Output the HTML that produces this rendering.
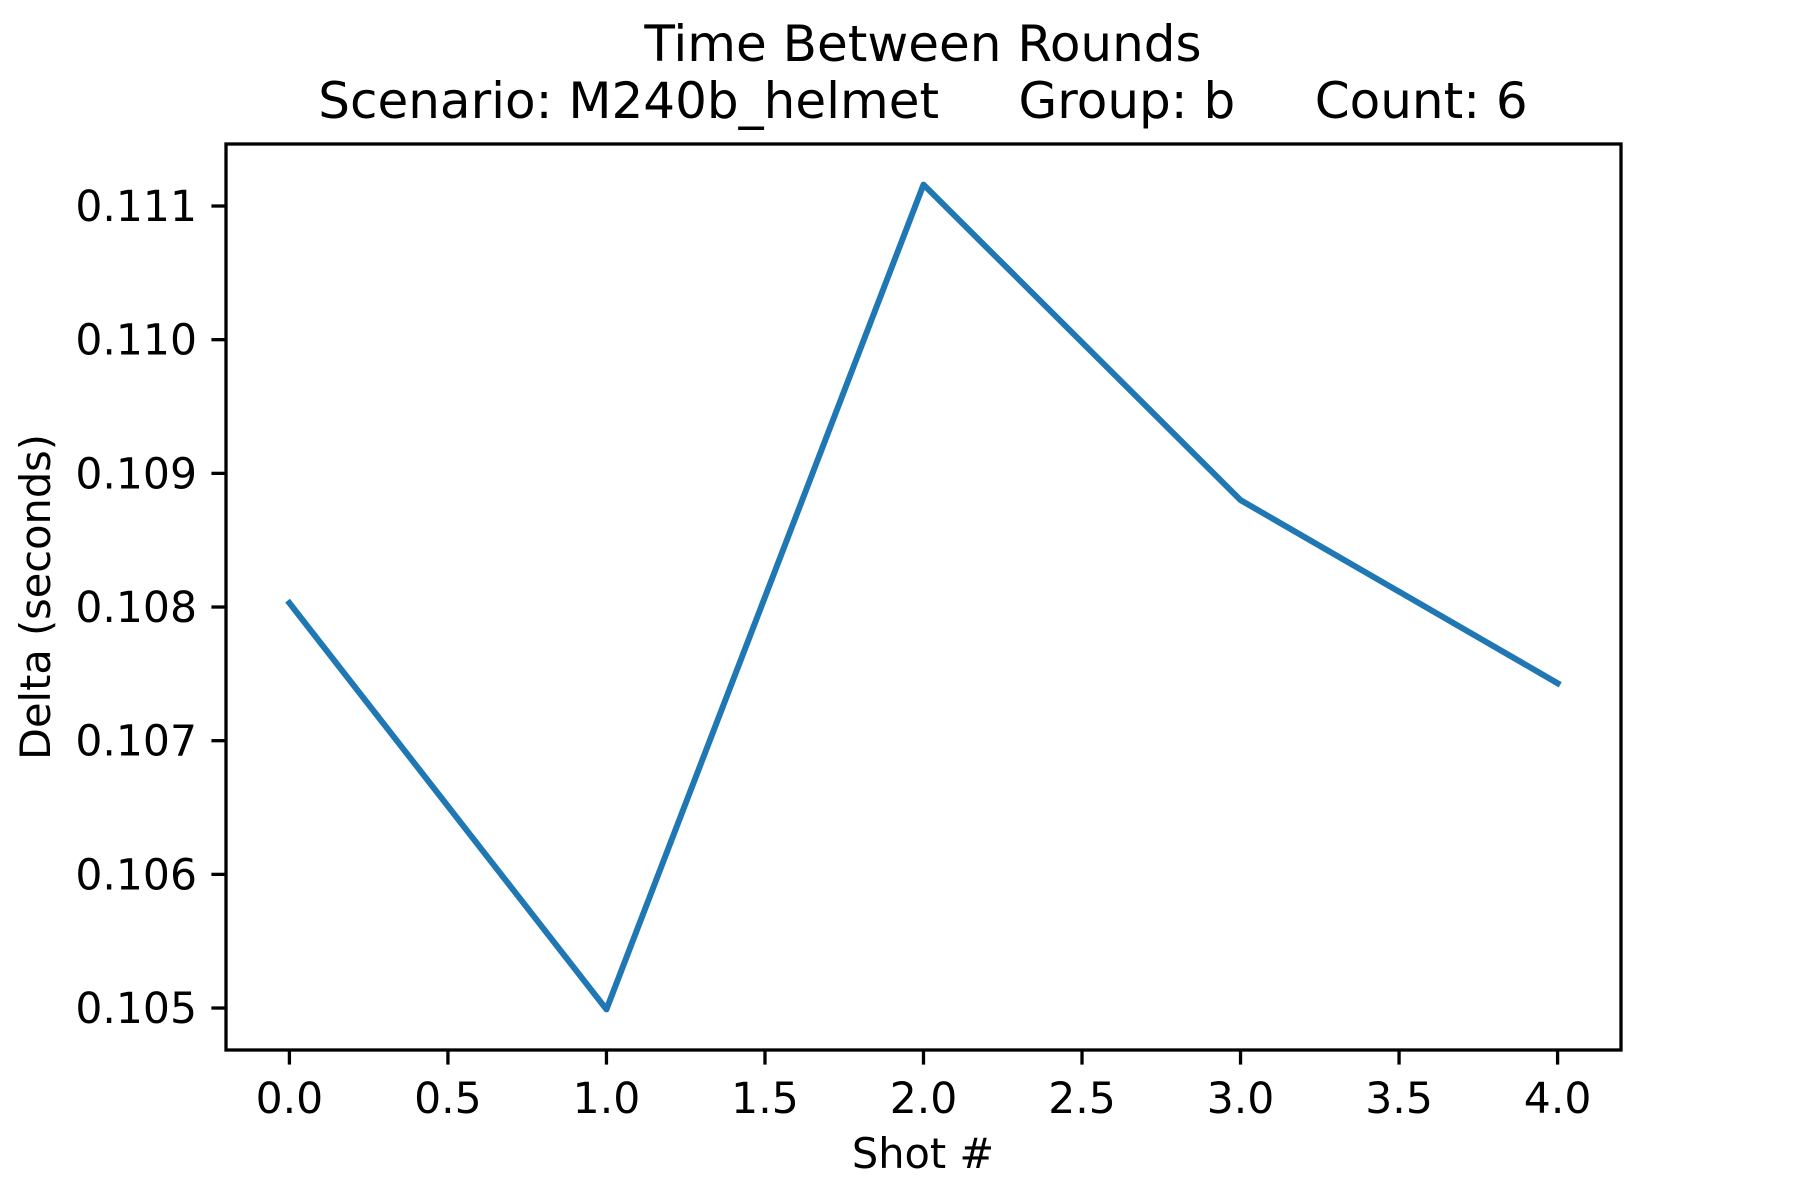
<!DOCTYPE html>
<html><head><meta charset="utf-8"><style>
html,body{margin:0;padding:0;background:#fff;}
svg{display:block;font-family:"DejaVu Sans","Liberation Sans",sans-serif;}
</style></head><body>
<svg id="chart" width="1800" height="1200" viewBox="0 0 1800 1200" xmlns="http://www.w3.org/2000/svg">
<rect width="1800" height="1200" fill="#fff"/>
<text x="923" y="61" font-size="50" text-anchor="middle">Time Between Rounds</text>
<text x="923" y="118" font-size="50" text-anchor="middle" xml:space="preserve">Scenario: M240b_helmet     Group: b     Count: 6</text>
<g id="xticks"></g>
<g id="yticks"></g>
<polyline id="series" fill="none" stroke="#1f77b4" stroke-width="6" stroke-linejoin="round" stroke-linecap="square"/>
<rect x="226" y="144" width="1395" height="906" fill="none" stroke="#000" stroke-width="3.3"/>
<text x="923" y="1168" font-size="41.5" text-anchor="middle">Shot #</text>
<text transform="translate(50,597) rotate(-90)" font-size="41.5" text-anchor="middle">Delta (seconds)</text>
</svg>
<script>
const shots = [0, 1, 2, 3, 4];
const deltas = [0.10803, 0.10499, 0.11116, 0.10880, 0.10743];
const xTickValues = [0, 0.5, 1, 1.5, 2, 2.5, 3, 3.5, 4];
const xTickLabels = ["0.0","0.5","1.0","1.5","2.0","2.5","3.0","3.5","4.0"];
const yTickValues = [0.105, 0.106, 0.107, 0.108, 0.109, 0.110, 0.111];
const yTickLabels = ["0.105","0.106","0.107","0.108","0.109","0.110","0.111"];

const L=226,R=1621,T=144,B=1050;
const xMin=-0.2,xMax=4.2,yMin=0.104686,yMax=0.111464;
const sx=v=>L+(v-xMin)/(xMax-xMin)*(R-L);
const sy=v=>B-(v-yMin)/(yMax-yMin)*(B-T);
const NS="http://www.w3.org/2000/svg";
const xg=document.getElementById('xticks'), yg=document.getElementById('yticks');
xTickValues.forEach((v,i)=>{
  const l=document.createElementNS(NS,'line');
  l.setAttribute('x1',sx(v));l.setAttribute('x2',sx(v));l.setAttribute('y1',B);l.setAttribute('y2',B+14.6);
  l.setAttribute('stroke','#000');l.setAttribute('stroke-width','3.3');
  
  
  xg.appendChild(l);
  const t=document.createElementNS(NS,'text');
  t.setAttribute('x',sx(v));t.setAttribute('y',B+63);t.setAttribute('font-size','42.5');t.setAttribute('text-anchor','middle');
  t.textContent=xTickLabels[i];
  
  
  xg.appendChild(t);
});
yTickValues.forEach((v,i)=>{
  const l=document.createElementNS(NS,'line');
  l.setAttribute('x1',L-14.6);l.setAttribute('x2',L);l.setAttribute('y1',sy(v));l.setAttribute('y2',sy(v));
  l.setAttribute('stroke','#000');l.setAttribute('stroke-width','3.3');
  
  
  yg.appendChild(l);
  const t=document.createElementNS(NS,'text');
  t.setAttribute('x',L-29);t.setAttribute('y',sy(v)+15);t.setAttribute('font-size','42.5');t.setAttribute('text-anchor','end');
  t.textContent=yTickLabels[i];
  
  
  yg.appendChild(t);
});
document.getElementById('series').setAttribute('points',shots.map((s,i)=>sx(s)+','+sy(deltas[i])).join(' '));
</script>
</body></html>
